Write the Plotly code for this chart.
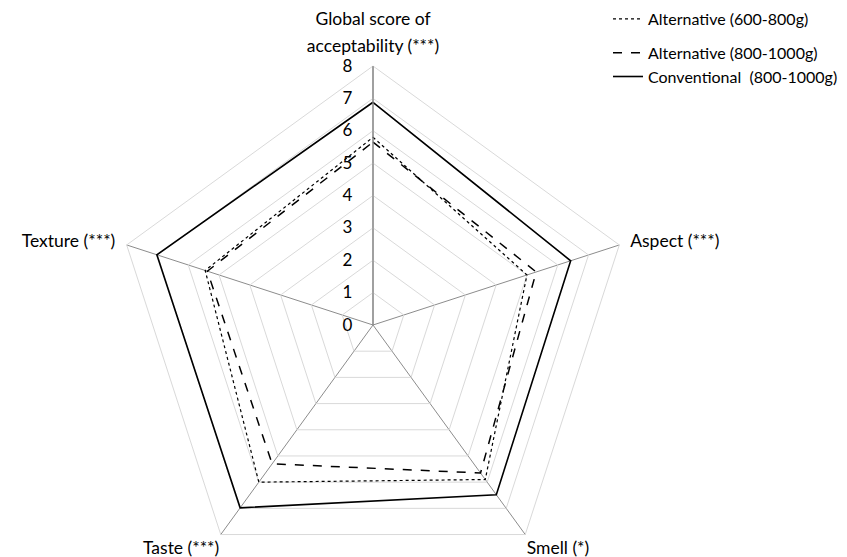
import plotly.graph_objects as go

LABEL_PX = 17.5
NB = "\u00a0"
def big(t):
    return f"<span style='font-size:{LABEL_PX}px'>{t}</span>"
def low(t):
    return f"<span style='font-size:30px'><sub>{big(t)}</sub></span>"
def high(t):
    return f"<span style='font-size:21px'><sup>{big(t)}</sup></span>"

categories = [high("Global score of") + "<br><br>" + high("acceptability (***)"),
              big(NB * 2 + "Aspect (***)"),
              low("Smell (*)"),
              low("Taste (***)"),
              big("Texture (***)" + NB * 2)]
alt_600_800 = [5.8, 5.0, 5.9, 6.0, 5.45]
alt_800_1000 = [5.65, 5.3, 5.65, 5.3, 5.38]
conventional = [6.88, 6.42, 6.48, 6.98, 7.02]
series_names = ["Alternative (600-800g)", "Alternative (800-1000g)", "Conventional  (800-1000g)"]
legend_groups = ["g1", "g2", "g2"]
radial_ticks = [0, 1, 2, 3, 4, 5, 6, 7, 8]

FONT = "Lato"
OFF = 8  # page body margin
W, H = 847 - OFF, 600

fig = go.Figure()
styles = [("dot", 1.2), ("dash", 1.5), ("solid", 1.6)]
for name, grp, vals, (dash, w) in zip(series_names, legend_groups,
                                      [alt_600_800, alt_800_1000, conventional], styles):
    fig.add_trace(go.Scatterpolar(
        r=vals + vals[:1], theta=categories + categories[:1],
        mode="lines", name=name, legendgroup=grp,
        line=dict(color="black", dash=dash, width=w),
    ))

cx, cy_top, R = 373 - OFF, 325 - OFF, 259
fig.update_layout(
    width=W, height=H,
    margin=dict(l=0, r=0, t=0, b=0, autoexpand=False),
    paper_bgcolor="white", plot_bgcolor="white",
    font=dict(family=FONT, size=17, color="black"),
    showlegend=True,
    legend=dict(x=(608 - OFF) / W, y=1 + 6 / H, xanchor="left", yanchor="top",
                font=dict(family=FONT, size=16), bgcolor="rgba(0,0,0,0)",
                tracegroupgap=10, traceorder="grouped"),
    polar=dict(
        domain=dict(x=[(cx - R) / W, (cx + R) / W],
                    y=[(H - cy_top - R) / H, (H - cy_top + R) / H]),
        bgcolor="white",
        gridshape="linear",
        radialaxis=dict(range=[0, 8], tickvals=radial_ticks, angle=90,
                        side="counterclockwise", tickangle=90,
                        showline=True, linecolor="#8c8c8c", linewidth=1.3,
                        gridcolor="#d9d9d9", gridwidth=1,
                        ticks="outside", ticklen=14, tickcolor="rgba(0,0,0,0)",
                        tickfont=dict(family=FONT, size=17)),
        angularaxis=dict(direction="clockwise", rotation=90,
                         showline=True, linecolor="#d9d9d9", linewidth=1,
                         gridcolor="#8c8c8c", gridwidth=1.3, ticks="",
                         tickfont=dict(family=FONT, size=10.5)),
    ),
)
fig.write_html("out.html")
